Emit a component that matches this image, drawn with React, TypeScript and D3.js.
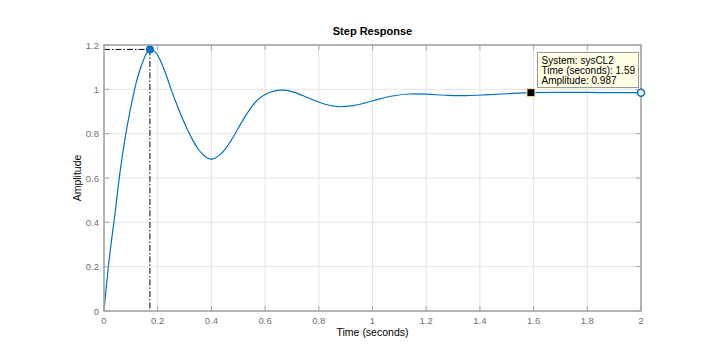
import React from "react";
import * as d3 from "d3";

const times = [0, 0.02, 0.04, 0.06, 0.08, 0.1, 0.12, 0.14, 0.16, 0.171, 0.19, 0.21, 0.23, 0.25, 0.27, 0.29, 0.31, 0.33, 0.35, 0.37, 0.385, 0.4, 0.415, 0.43, 0.45, 0.47, 0.49, 0.51, 0.53, 0.55, 0.57, 0.6, 0.63, 0.66, 0.7, 0.74, 0.78, 0.82, 0.87, 0.92, 0.97, 1.02, 1.08, 1.14, 1.2, 1.28, 1.35, 1.42, 1.5, 1.59, 1.7, 1.8, 1.9, 2.0];
const amplitude = [0, 0.24, 0.43, 0.63, 0.79, 0.92, 1.03, 1.11, 1.165, 1.18, 1.17, 1.13, 1.07, 1.0, 0.935, 0.875, 0.82, 0.772, 0.732, 0.704, 0.69, 0.685, 0.69, 0.703, 0.728, 0.763, 0.803, 0.846, 0.886, 0.921, 0.95, 0.977, 0.991, 0.996, 0.99, 0.972, 0.952, 0.934, 0.922, 0.925, 0.938, 0.955, 0.971, 0.979, 0.978, 0.973, 0.972, 0.975, 0.98, 0.985, 0.986, 0.986, 0.985, 0.985];
const xTicks = [0, 0.2, 0.4, 0.6, 0.8, 1, 1.2, 1.4, 1.6, 1.8, 2];
const yTicks = [0, 0.2, 0.4, 0.6, 0.8, 1, 1.2];
const peak = { t: 0.171, a: 1.18 };
const tip = { t: 1.59, a: 0.985, lines: ["System: sysCL2", "Time (seconds): 1.59", "Amplitude: 0.987"] };

const W = 708, H = 352;
const m = { left: 104, right: 641, top: 45, bottom: 311 };
const font = "'Liberation Sans', Arial, Helvetica, sans-serif";

export default function App() {
  const x = d3.scaleLinear().domain([0, 2]).range([m.left, m.right]);
  const y = d3.scaleLinear().domain([0, 1.2]).range([m.bottom, m.top]);
  const pts: [number, number][] = times.map((t, i) => [t, amplitude[i]]);
  const line = d3.line<[number, number]>().x(d => x(d[0])).y(d => y(d[1])).curve(d3.curveCatmullRom);
  const axisCol = "#a6a6a6";
  const labCol = "#707070";
  const tipX = x(tip.t), tipY = y(tip.a);
  return (
    <svg width={W} height={H} style={{ position: "absolute", left: 0, top: 0, background: "#fff" }} fontFamily={font}>
      {xTicks.map(t => (
        <line key={"gx" + t} x1={x(t)} x2={x(t)} y1={m.top} y2={m.bottom} stroke="#e3e3e3" />
      ))}
      {yTicks.map(t => (
        <line key={"gy" + t} x1={m.left} x2={m.right} y1={y(t)} y2={y(t)} stroke="#e3e3e3" />
      ))}
      {/* peak guide lines */}
      <line x1={m.left} x2={x(peak.t)} y1={y(peak.a)} y2={y(peak.a)} stroke="#000" strokeDasharray="6,2,1.5,2" />
      <line x1={x(peak.t)} x2={x(peak.t)} y1={y(peak.a)} y2={m.bottom} stroke="#000" strokeDasharray="6,2,1.5,2" />
      <path d={line(pts) || ""} fill="none" stroke="#0072bd" strokeWidth={1.2} />
      <rect x={m.left} y={m.top} width={m.right - m.left} height={m.bottom - m.top} fill="none" stroke={axisCol} strokeWidth={1.6} />
      {xTicks.map(t => (
        <g key={"tx" + t}>
          <line x1={x(t)} x2={x(t)} y1={m.bottom} y2={m.bottom - 5} stroke={axisCol} />
          <line x1={x(t)} x2={x(t)} y1={m.top} y2={m.top + 5} stroke={axisCol} />
          <text x={x(t)} y={m.bottom + 13} textAnchor="middle" fontSize={9.5} fill={labCol}>{t}</text>
        </g>
      ))}
      {yTicks.map(t => (
        <g key={"ty" + t}>
          <line x1={m.left} x2={m.left + 5} y1={y(t)} y2={y(t)} stroke={axisCol} />
          <line x1={m.right} x2={m.right - 5} y1={y(t)} y2={y(t)} stroke={axisCol} />
          <text x={m.left - 5} y={y(t) + 3.5} textAnchor="end" fontSize={9.5} fill={labCol}>{t}</text>
        </g>
      ))}
      <text x={(m.left + m.right) / 2} y={35} textAnchor="middle" fontSize={11} fontWeight="bold" fill="#000">Step Response</text>
      <text x={(m.left + m.right) / 2} y={336} textAnchor="middle" fontSize={10.5} fill="#000">Time (seconds)</text>
      <text transform={`translate(81,${(m.top + m.bottom) / 2}) rotate(-90)`} textAnchor="middle" fontSize={10.5} fill="#000">Amplitude</text>
      <circle cx={x(peak.t)} cy={y(peak.a)} r={4} fill="#0072bd" />
      <circle cx={x(2)} cy={y(amplitude[amplitude.length - 1])} r={3.5} fill="#fff" stroke="#0072bd" strokeWidth={1.5} />
      <rect x={tipX - 4} y={tipY - 4} width={8} height={8} fill="#000" stroke="#f0f0b0" strokeWidth={1} />
      <rect x={537.5} y={52.5} width={101} height={35} fill="#ffffe5" stroke="#9a9a9a" />
      {tip.lines.map((s, i) => (
        <text key={s} x={541.5} y={64 + i * 10} fontSize={10} fill="#000">{s}</text>
      ))}
    </svg>
  );
}
